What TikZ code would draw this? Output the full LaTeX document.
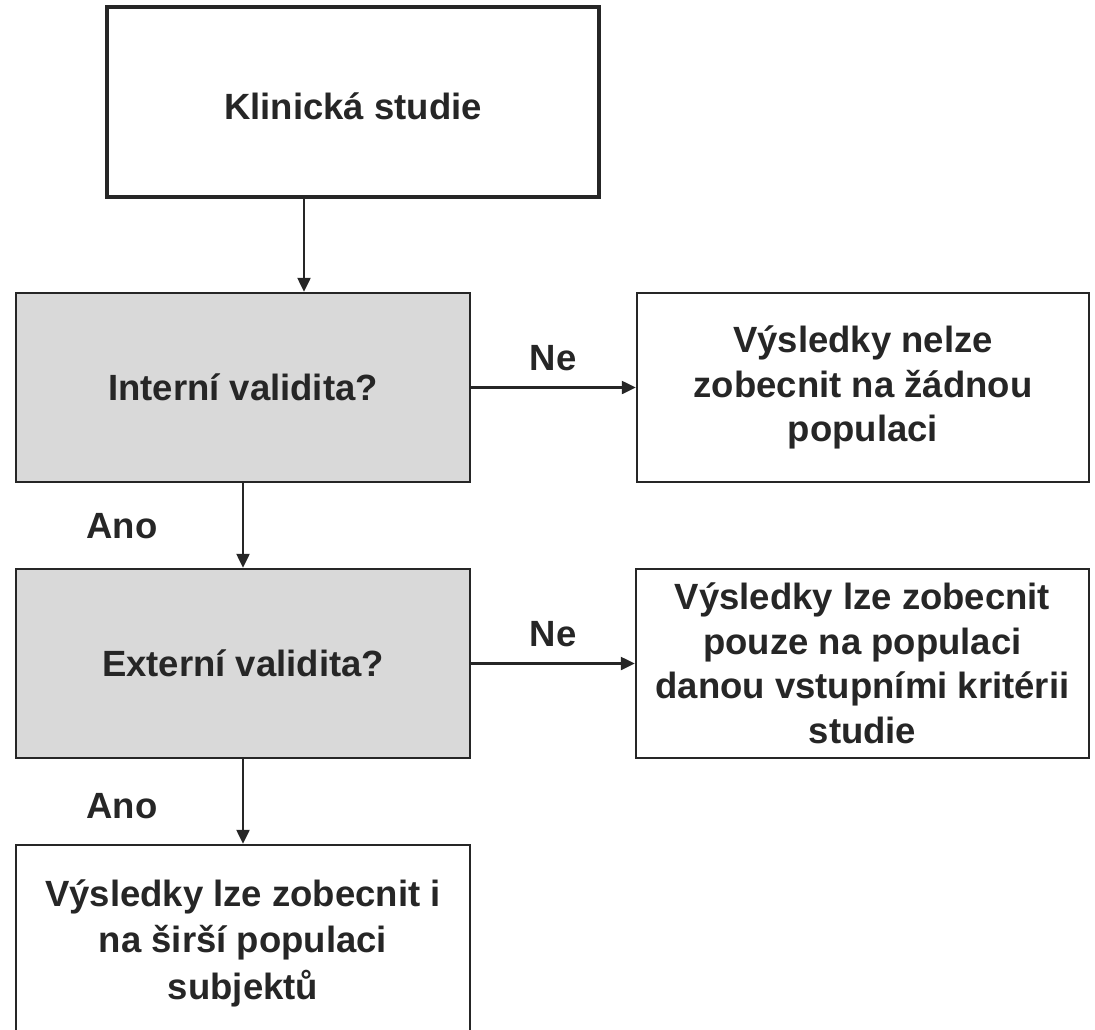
\documentclass[tikz,border=0pt]{standalone}
\usepackage{fontspec}
\setmainfont{Liberation Sans}
\usetikzlibrary{arrows.meta}
\definecolor{ink}{HTML}{262626}
\definecolor{boxgray}{HTML}{D9D9D9}
\tikzset{
  flowbox/.style={draw=ink, line width=2.5pt, fill=white, align=center, inner sep=0pt,
    text=ink, font=\bfseries\fontsize{36.5}{44.5}\selectfont},
  graybox/.style={flowbox, fill=boxgray},
  arr/.style={draw=ink, line width=2.5pt, -{Triangle[length=14pt,width=13pt]}},
  lbl/.style={text=ink, font=\bfseries\fontsize{36.5}{44.5}\selectfont, inner sep=0pt}
}
\begin{document}
\begin{tikzpicture}[x=1pt,y=-1pt]
\useasboundingbox (0,0) rectangle (1095,1030);
\clip (0,0) rectangle (1095,1030);
\node[flowbox, line width=3.5pt, minimum width=492pt, minimum height=190pt] (b1) at (353,102) {};
\node[lbl] (t1) at (353,106) {Klinická studie};
\node[graybox, minimum width=454pt, minimum height=189pt] (b2) at (243,387.5) {Interní validita?};
\node[flowbox, minimum width=452pt, minimum height=189pt] (b3) at (863,387.5) {Výsledky nelze\\zobecnit na žádnou\\populaci};
\node[graybox, minimum width=454pt, minimum height=189pt] (b4) at (243,663.5) {Externí validita?};
\node[flowbox, minimum width=453pt, minimum height=189pt] (b5) at (862.5,663.5) {Výsledky lze zobecnit\\pouze na populaci\\danou vstupními kritérii\\studie};
\node[flowbox, minimum width=454pt, minimum height=196pt, font=\bfseries\fontsize{36.5}{46.5}\selectfont] (b6) at (243,943) {Výsledky lze zobecnit i\\na širší populaci\\subjektů};
\coordinate (ax) at (304,0);
\draw[arr] (ax |- b1.south) -- (ax |- b2.north);
\draw[arr] (b2.east) -- (b3.west);
\draw[arr] (b2.south) -- (b4.north);
\draw[arr] (b4.east) -- (b5.west);
\draw[arr] (b4.south) -- (b6.north);
\node[lbl] (ne1) at (553,358) {Ne};
\node[lbl] (ne2) at (553,634) {Ne};
\node[lbl] (ano1) at (122,526) {Ano};
\node[lbl] (ano2) at (122,806) {Ano};
\end{tikzpicture}
\end{document}
